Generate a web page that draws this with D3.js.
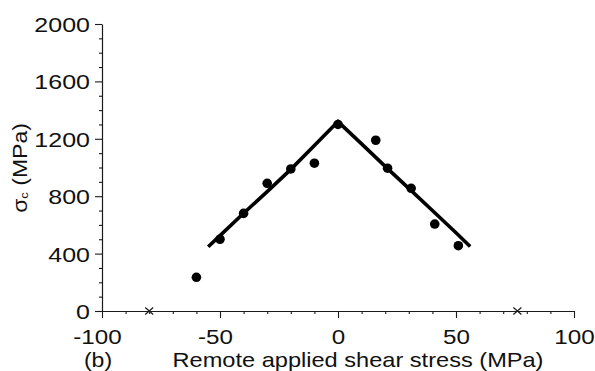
<!DOCTYPE html>
<html>
<head>
<meta charset="utf-8">
<script src="https://cdn.jsdelivr.net/npm/d3@7"></script>
<style>
  html, body { margin: 0; padding: 0; background: #fff; }
  svg { display: block; }
  text { font-family: "Liberation Sans", Arial, Helvetica, sans-serif; fill: #111; }
</style>
</head>
<body>
<svg id="chart" width="595" height="371"></svg>
<script>
// measured points (MPa)
const obsX = [-60, -50, -40, -30, -20, -10, 0, 16, 21, 31, 41, 51];
const obsY = [235, 500, 680, 890, 990, 1030, 1300, 1190, 995, 855, 606, 455];

// model curve
const fitX = [-55, -50, -40, -30, -20, -10, 0, 10, 20, 30, 40, 50, 56];
const fitY = [448, 525, 681, 832, 987, 1153, 1320, 1165, 1008, 855, 700, 545, 450];

// crosses on the axis
const crossX = [-80, 76];

const xTicks = [-100, -50, 0, 50, 100];
const xMinor = d3.range(-90, 100, 10).filter((v) => v % 50 !== 0);
const yTicks = [0, 400, 800, 1200, 1600, 2000];
const yMinor = d3.range(100, 2000, 100).filter((v) => v % 400 !== 0);

const svg = d3.select('#chart');
const x = d3.scaleLinear().domain([-100, 100]).range([102, 574]);
const y = d3.scaleLinear().domain([0, 2000]).range([311, 24]);
const stretch = 1.18;
const ink = '#1a1a1a';

function styleAxis(g) {
  g.select('.domain').attr('stroke', ink).attr('stroke-width', 1.2);
  g.selectAll('.tick line').attr('stroke', ink).attr('stroke-width', 1.1);
}

// minor ticks first
svg.append('g')
  .attr('transform', `translate(0,${y(0)})`)
  .call(d3.axisBottom(x).tickValues(xMinor).tickSize(3).tickFormat(''))
  .call((g) => g.select('.domain').remove())
  .call(styleAxis);

svg.append('g')
  .attr('transform', `translate(${x(-100)},0)`)
  .call(d3.axisLeft(y).tickValues(yMinor).tickSize(3).tickFormat(''))
  .call((g) => g.select('.domain').remove())
  .call(styleAxis);

// major x axis
const gx = svg.append('g')
  .attr('transform', `translate(0,${y(0)})`)
  .call(d3.axisBottom(x).tickValues(xTicks).tickSize(7).tickSizeOuter(0).tickFormat((d) => String(d)))
  .call(styleAxis);
gx.selectAll('.tick text')
  .attr('y', 0)
  .attr('dy', 0)
  .attr('font-size', 20.5)
  .attr('font-family', null)
  .attr('fill', ink)
  .attr('transform', (d) => `translate(${d < 0 ? -5 : 0},32.5) scale(${stretch},1)`);

// major y axis
const gy = svg.append('g')
  .attr('transform', `translate(${x(-100)},0)`)
  .call(d3.axisLeft(y).tickValues(yTicks).tickSize(7).tickSizeOuter(0).tickFormat((d) => String(d)))
  .call(styleAxis);
gy.selectAll('.tick text')
  .attr('x', 0)
  .attr('dy', 0)
  .attr('font-size', 20.5)
  .attr('font-family', null)
  .attr('fill', ink)
  .attr('transform', `translate(-12,7.5) scale(${stretch + 0.04},1)`);

// fitted curve
svg.append('path')
  .datum(fitX.map((v, i) => [v, fitY[i]]))
  .attr('fill', 'none')
  .attr('stroke', '#000')
  .attr('stroke-width', 3.6)
  .attr('stroke-linejoin', 'miter')
  .attr('d', d3.line().x((d) => x(d[0])).y((d) => y(d[1])));

// data points
svg.append('g')
  .selectAll('circle')
  .data(obsX.map((v, i) => [v, obsY[i]]))
  .join('circle')
  .attr('cx', (d) => x(d[0]))
  .attr('cy', (d) => y(d[1]))
  .attr('r', 4.8)
  .attr('fill', '#000');

// crosses
svg.append('g')
  .selectAll('path')
  .data(crossX)
  .join('path')
  .attr('d', (d) => {
    const cx = x(d), cy = y(0);
    return `M${cx - 4},${cy - 3.5}L${cx + 4},${cy + 3.5}M${cx - 4},${cy + 3.5}L${cx + 4},${cy - 3.5}`;
  })
  .attr('stroke', ink)
  .attr('stroke-width', 1.2);

// axis titles
svg.append('text')
  .attr('transform', `translate(358,366.5) scale(${stretch},1)`)
  .attr('text-anchor', 'middle')
  .attr('font-size', 20)
  .text('Remote applied shear stress (MPa)');

svg.append('text')
  .attr('transform', `translate(98,367) scale(${stretch},1)`)
  .attr('text-anchor', 'middle')
  .attr('font-size', 19.5)
  .text('(b)');

const yl = svg.append('text')
  .attr('transform', `translate(27,168) rotate(-90) scale(${stretch},1)`)
  .attr('text-anchor', 'middle')
  .attr('font-size', 19.5);
yl.append('tspan').text('σ');
yl.append('tspan').attr('font-size', 11).attr('dy', 1).text('c');
yl.append('tspan').attr('dy', -1).text(' (MPa)');
</script>
</body>
</html>
